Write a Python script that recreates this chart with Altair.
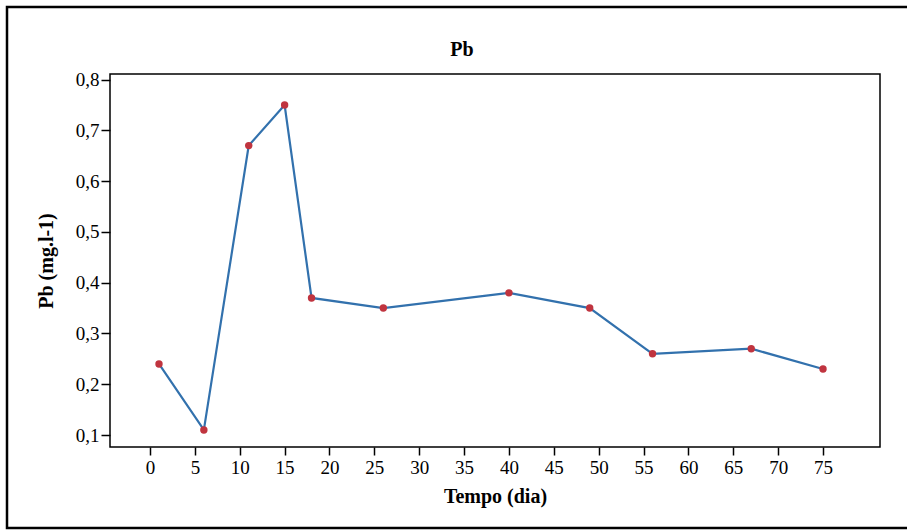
import altair as alt
import pandas as pd

dias = [1, 6, 11, 15, 18, 26, 40, 49, 56, 67, 75]
pb = [0.24, 0.11, 0.67, 0.75, 0.37, 0.35, 0.38, 0.35, 0.26, 0.27, 0.23]
x_ticks = list(range(0, 80, 5))
y_ticks = [0.1, 0.2, 0.3, 0.4, 0.5, 0.6, 0.7, 0.8]
chart_title = "Pb"

df = pd.DataFrame({"dia": dias, "pb": pb})

FONT = "Liberation Serif"

x_enc = alt.X(
    "dia:Q",
    scale=alt.Scale(domain=[-4.46, 81.35], nice=False, zero=False),
    axis=alt.Axis(
        title="Tempo (dia)", values=x_ticks, grid=False, domain=False,
        tickColor="black", tickWidth=1.5, tickSize=8,
        labelFont=FONT, labelFontSize=19, labelColor="black", labelPadding=3,
        titleFont=FONT, titleFontSize=20, titleFontWeight="bold", titleColor="black",
        titlePadding=9,
    ),
)
y_enc = alt.Y(
    "pb:Q",
    scale=alt.Scale(domain=[0.0764, 0.811], nice=False, zero=False),
    axis=alt.Axis(
        title="Pb (mg.l-1)", values=y_ticks, grid=False, domain=False,
        labelExpr="replace(format(datum.value, '.1f'), '.', ',')",
        tickColor="black", tickWidth=1.5, tickSize=9,
        labelFont=FONT, labelFontSize=19, labelColor="black", labelPadding=2,
        titleFont=FONT, titleFontSize=20, titleFontWeight="bold", titleColor="black",
        titlePadding=19,
    ),
)

line = alt.Chart(df).mark_line(color="#3271ad", strokeWidth=2.2).encode(x=x_enc, y=y_enc)
pts = alt.Chart(df).mark_circle(color="#c0343f", opacity=1, size=55).encode(x="dia:Q", y="pb:Q")

one = pd.DataFrame({"a": [0]})
frame = alt.Chart(one).mark_rect(
    filled=False, stroke="black", strokeWidth=2.5, fill=None
).encode(
    x=alt.value(-103), x2=alt.value(805), y=alt.value(-67), y2=alt.value(454)
)
title = alt.Chart(one).mark_text(
    font=FONT, fontSize=20, fontWeight="bold", color="black",
    align="center", baseline="middle"
).encode(x=alt.value(352), y=alt.value(-24), text=alt.value(chart_title))

chart = alt.layer(frame, title, line, pts).properties(
    width=770,
    height=373,
    autosize=alt.AutoSizeParams(type="none"),
    padding={"left": 110, "top": 74, "right": 27, "bottom": 84},
    background="white",
).configure_view(stroke="black", strokeWidth=1.5)

chart.save("out.html", embed_options={"renderer": "svg", "actions": False})
